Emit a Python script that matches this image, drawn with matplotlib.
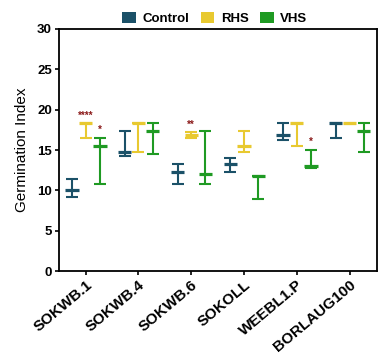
import matplotlib
matplotlib.use("Agg")
import matplotlib.pyplot as plt
import numpy as np
from matplotlib.patches import Patch

plt.rcParams['font.family'] = ['Liberation Sans', 'DejaVu Sans']

genotypes = ['SOKWB.1', 'SOKWB.4', 'SOKWB.6', 'SOKOLL', 'WEEBL1.P', 'BORLAUG100']
treatments = ['Control', 'RHS', 'VHS']
colors = ['#1b5168', '#e8c930', '#1f9a23']

# mean, min, max per genotype
control_mean = [10.0, 14.8, 12.3, 13.3, 16.9, 18.3]
control_min = [9.2, 14.3, 10.8, 12.3, 16.3, 16.5]
control_max = [11.4, 17.3, 13.3, 14.0, 18.3, 18.3]

rhs_mean = [18.3, 18.3, 16.8, 15.5, 18.3, 18.3]
rhs_min = [16.5, 14.7, 16.5, 14.8, 15.5, 18.2]
rhs_max = [18.3, 18.3, 17.2, 17.3, 18.3, 18.3]

vhs_mean = [15.5, 17.3, 12.0, 11.8, 13.0, 17.3]
vhs_min = [10.8, 14.5, 10.8, 8.9, 12.8, 14.7]
vhs_max = [16.5, 18.3, 17.3, 11.8, 15.0, 18.3]

# significance marks: (genotype index, treatment index, label)
stars = [(0, 1, '****'), (0, 2, '*'), (2, 1, '**'), (4, 2, '*')]

means = [control_mean, rhs_mean, vhs_mean]
mins = [control_min, rhs_min, vhs_min]
maxs = [control_max, rhs_max, vhs_max]
offsets = [-0.26, 0.0, 0.27]

fig = plt.figure(figsize=(3.87, 3.58), dpi=100)
ax = fig.add_axes([0.152, 0.243, 0.822, 0.676])

x = np.arange(len(genotypes))
for t in range(3):
    xs = x + offsets[t]
    m = np.array(means[t])
    lo = np.array(mins[t])
    hi = np.array(maxs[t])
    ax.errorbar(xs, m, yerr=[m - lo, hi - m], fmt='none', ecolor=colors[t],
                elinewidth=1.5, capsize=4.5, capthick=1.5, zorder=3)
    ax.hlines(m, xs - 0.125, xs + 0.125, colors=colors[t], linewidth=2.3, zorder=4)

for g, t, s in stars:
    ax.text(x[g] + offsets[t], maxs[t][g] + 0.35, s, color='#8b1a1a',
            ha='center', va='bottom', fontsize=7, fontweight='bold')

ax.set_xlim(-0.51, 5.52)
ax.set_ylim(0, 30)
ax.set_yticks([0, 5, 10, 15, 20, 25, 30])
ax.set_xticks(x)
ax.set_xticklabels(genotypes, rotation=40, ha='right', rotation_mode='anchor',
                   fontsize=11, fontweight='bold')
for lab in ax.get_yticklabels():
    lab.set_fontweight('bold')
    lab.set_fontsize(9.5)
ax.tick_params(axis='both', length=3, width=1.2, pad=2)
ax.set_ylabel('Germination Index', fontsize=11, labelpad=6)
for sp in ax.spines.values():
    sp.set_linewidth(1.3)

handles = [Patch(facecolor=c, edgecolor='none') for c in colors]
fig.legend(handles, treatments, loc='center', bbox_to_anchor=(0.555, 0.948),
           ncol=3, frameon=False, handlelength=1.0, handleheight=0.9,
           handletextpad=0.5, columnspacing=0.9,
           prop={'weight': 'bold', 'size': 9.5})

fig.savefig('out.png', dpi=100)
